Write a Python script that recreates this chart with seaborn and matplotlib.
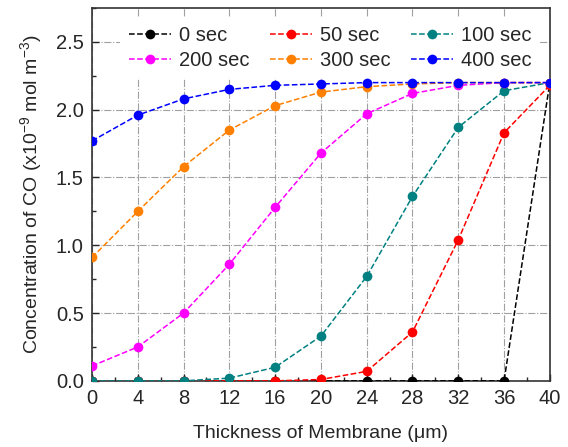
import pandas as pd
import seaborn as sns
import matplotlib.pyplot as plt
from matplotlib.ticker import MultipleLocator

# thickness positions (um)
thickness = [0, 4, 8, 12, 16, 20, 24, 28, 32, 36, 40]

# CO concentration (x1e-9 mol m^-3) per time
conc_0 = [0, 0, 0, 0, 0, 0, 0, 0, 0, 0, 2.2]
conc_50 = [0, 0, 0, 0, 0, 0.01, 0.07, 0.36, 1.04, 1.83, 2.18]
conc_100 = [0, 0, 0, 0.02, 0.10, 0.33, 0.77, 1.36, 1.87, 2.14, 2.20]
conc_200 = [0.11, 0.25, 0.50, 0.86, 1.28, 1.68, 1.97, 2.12, 2.18, 2.20, 2.20]
conc_300 = [0.91, 1.25, 1.58, 1.85, 2.03, 2.13, 2.17, 2.19, 2.20, 2.20, 2.20]
conc_400 = [1.77, 1.96, 2.08, 2.15, 2.18, 2.19, 2.20, 2.20, 2.20, 2.20, 2.20]

labels = ['0 sec', '50 sec', '100 sec', '200 sec', '300 sec', '400 sec']
colors = ['#000000', '#ff0000', '#008080', '#ff00ff', '#ff8000', '#0000ff']
series = [conc_0, conc_50, conc_100, conc_200, conc_300, conc_400]

sns.set_style('ticks')
plt.rcParams['font.family'] = ['Liberation Sans', 'DejaVu Sans']
plt.rcParams['mathtext.fontset'] = 'custom'
plt.rcParams['mathtext.rm'] = 'Liberation Sans'

fig = plt.figure(figsize=(5.68, 4.47), dpi=100)
ax = fig.add_axes([0.162, 0.148, 0.806, 0.834])

for lab, col, vals in zip(labels, colors, series):
    df = pd.DataFrame({'x': thickness, 'y': vals})
    sns.lineplot(data=df, x='x', y='y', ax=ax, color=col, linestyle='--',
                 linewidth=1.1, marker='o', markersize=7, markeredgewidth=0,
                 label=lab, zorder=3)

h, l = ax.get_legend_handles_labels()
lookup = dict(zip(l, h))
order = ['0 sec', '200 sec', '50 sec', '300 sec', '100 sec', '400 sec']
leg = ax.legend([lookup[o] for o in order], order, ncol=3, loc='upper center',
                bbox_to_anchor=(0.52, 1.0), frameon=True, fontsize=14.5,
                handlelength=2.1, handletextpad=0.4, columnspacing=1.0,
                labelspacing=0.3, borderaxespad=0.5, fancybox=False)
leg.get_frame().set_facecolor('white')
leg.get_frame().set_edgecolor('none')
leg.get_frame().set_alpha(1)

ax.set_xlim(0, 40)
ax.set_ylim(0, 2.75)
ax.xaxis.set_major_locator(MultipleLocator(4))
ax.xaxis.set_minor_locator(MultipleLocator(2))
ax.yaxis.set_major_locator(MultipleLocator(0.5))
ax.yaxis.set_minor_locator(MultipleLocator(0.25))
ax.tick_params(which='both', direction='in', labelsize=14.5, pad=6)
ax.tick_params(which='major', length=5, width=1)
ax.tick_params(which='minor', length=3, width=1)
ax.grid(True, which='major', color='#a0a0a0', linestyle='-.', linewidth=0.8)
ax.set_axisbelow(True)
for s in ax.spines.values():
    s.set_linewidth(1.2)
    s.set_color('#333333')

ax.set_xlabel('Thickness of Membrane (\u03bcm)', fontsize=14, labelpad=12)
ax.set_ylabel('Concentration of CO (x10$^{-9}$ mol m$^{-3}$)', fontsize=14,
              labelpad=8)

fig.savefig('out.png', dpi=100)
